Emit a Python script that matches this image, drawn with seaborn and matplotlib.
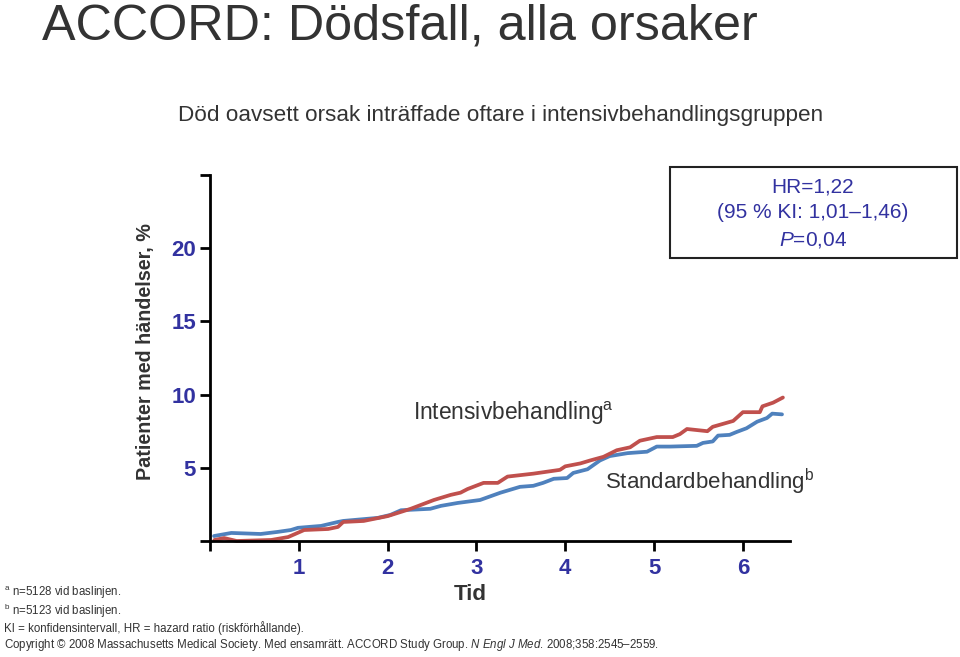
import matplotlib
matplotlib.use("Agg")
import matplotlib.pyplot as plt
import seaborn as sns
import pandas as pd
from matplotlib.patches import Rectangle

# ---- data ----
t_int = [0.05, 0.16, 0.30, 0.69, 0.88, 1.06, 1.33, 1.44, 1.50, 1.73, 2.00, 2.26, 2.52, 2.71, 2.82, 2.90,
         3.08, 3.24, 3.35, 3.64, 3.94, 4.00, 4.17, 4.28, 4.43, 4.58, 4.73, 4.84, 5.03, 5.21, 5.29, 5.37,
         5.60, 5.66, 5.89, 6.00, 6.19, 6.22, 6.34, 6.45]
y_int = [0.07, 0.2, 0.0, 0.07, 0.27, 0.75, 0.82, 0.96, 1.3, 1.37, 1.7, 2.2, 2.8, 3.15, 3.3, 3.55,
         3.97, 3.97, 4.4, 4.6, 4.86, 5.1, 5.3, 5.5, 5.75, 6.2, 6.4, 6.85, 7.1, 7.1, 7.3, 7.65,
         7.5, 7.8, 8.2, 8.8, 8.8, 9.2, 9.45, 9.8]
t_std = [0.045, 0.24, 0.57, 0.76, 0.91, 0.99, 1.25, 1.44, 1.50, 1.89, 2.03, 2.15, 2.48, 2.60, 2.79,
         3.04, 3.27, 3.49, 3.64, 3.75, 3.87, 4.02, 4.09, 4.25, 4.39, 4.50, 4.70, 4.92, 5.03, 5.18,
         5.48, 5.55, 5.66, 5.72, 5.85, 5.93, 6.04, 6.16, 6.27, 6.33, 6.44]
y_std = [0.34, 0.55, 0.48, 0.62, 0.75, 0.9, 1.03, 1.3, 1.37, 1.58, 1.78, 2.1, 2.2, 2.4, 2.6,
         2.8, 3.3, 3.7, 3.77, 3.97, 4.25, 4.3, 4.65, 4.9, 5.5, 5.8, 6.0, 6.1, 6.45, 6.45,
         6.5, 6.7, 6.8, 7.2, 7.25, 7.45, 7.7, 8.15, 8.4, 8.7, 8.65]
groups = ["Intensivbehandling", "Standardbehandling"]
x_ticks = [1, 2, 3, 4, 5, 6]
y_ticks = [5, 10, 15, 20]

sns.set_theme(style="white")
base = "Liberation Sans"
plt.rcParams["font.family"] = [base, "DejaVu Sans"]
plt.rcParams["mathtext.fontset"] = "custom"
plt.rcParams["mathtext.rm"] = base
plt.rcParams["mathtext.it"] = base + ":italic"

GRAY = "#333333"
TBLUE = "#3232a0"
RED = "#c0504d"
BLUE = "#4f81bd"

df = pd.concat([
    pd.DataFrame({"Tid": t_std, "val": y_std, "grupp": groups[1]}),
    pd.DataFrame({"Tid": t_int, "val": y_int, "grupp": groups[0]}),
])

fig = plt.figure(figsize=(9.6, 6.57), dpi=100)
ax = fig.add_axes([210/960, 1-541/657, 580/960, (541-175)/657])
sns.lineplot(data=df, x="Tid", y="val", hue="grupp", palette={groups[0]: RED, groups[1]: BLUE},
             hue_order=[groups[1], groups[0]],
             sort=False, estimator=None, lw=2.7, ax=ax, legend=False)
for ln in ax.lines:
    ln.set_clip_on(False)
    ln.set_solid_joinstyle("round")

ax.set_xlim(0, 6.53)
ax.set_ylim(0, 25)
sns.despine(ax=ax)
for s in ("left", "bottom"):
    ax.spines[s].set_color("black")
    ax.spines[s].set_linewidth(2)
ax.set_xticks([0] + x_ticks)
ax.set_xticklabels([""] + [str(v) for v in x_ticks])
ax.set_yticks([0] + y_ticks + [25])
ax.set_yticklabels([""] + [str(v) for v in y_ticks] + [""])
ax.tick_params(axis="both", which="major", bottom=True, left=True, direction="out", length=7, width=2,
               color="black", labelcolor=TBLUE, labelsize=16)
ax.tick_params(axis="y", pad=3)
ax.tick_params(axis="x", pad=5)
for lab in ax.get_xticklabels() + ax.get_yticklabels():
    lab.set_fontweight("bold")
ax.set_xlabel("")
ax.set_ylabel("")
fig.text(470/960, 1-595/657, "Tid", ha="center", va="center",
         fontsize=16, fontweight="bold", color=GRAY)
fig.text(145/960, 1-352/657, "Patienter med händelser, %", rotation=90, ha="center", va="center",
         fontsize=14.2, fontweight="bold", color=GRAY)

# annotations
fig.text(413/960, 1-413/657, r"Intensivbehandling$^{\mathrm{a}}$", fontsize=16.4, color=GRAY, va="center")
fig.text(605/960, 1-482/657, r"Standardbehandling$^{\mathrm{b}}$", fontsize=16.0, color=GRAY, va="center")

# title & subtitle
fig.text(42/960, 1-39/657, "ACCORD: Dödsfall, alla orsaker", fontsize=36.3, color=GRAY, va="baseline")
fig.text(178/960, 1-115/657, "Död oavsett orsak inträffade oftare i intensivbehandlingsgruppen",
         fontsize=16.2, color=GRAY, va="center")

# HR box
fig.patches.append(Rectangle((670/960, 1-258/657), 287/960, 91/657, transform=fig.transFigure,
                             fill=False, edgecolor="#222222", lw=1.5))
fig.text(813/960, 1-187/657, "HR=1,22", fontsize=15, color=TBLUE, ha="center", va="center")
fig.text(813/960, 1-213/657, "(95 % KI: 1,01–1,46)", fontsize=15, color=TBLUE, ha="center", va="center")
fig.text(813/960, 1-240/657, r"$\mathit{P}$=0,04", fontsize=15, color=TBLUE, ha="center", va="center")

# footnotes
fs = 8.3
fig.text(4/960, 1-593/657, r"$^{\mathrm{a}}$ n=5128 vid baslinjen.", fontsize=fs, color=GRAY, va="center")
fig.text(4/960, 1-611/657, r"$^{\mathrm{b}}$ n=5123 vid baslinjen.", fontsize=fs, color=GRAY, va="center")
fig.text(4/960, 1-628/657, "KI = konfidensintervall, HR = hazard ratio (riskförhållande).", fontsize=fs,
         color=GRAY, va="center")
fig.text(4/960, 1-645/657,
         r"Copyright © 2008 Massachusetts Medical Society. Med ensamrätt. ACCORD Study Group. $\mathit{N\ Engl\ J\ Med}$. 2008;358:2545–2559.",
         fontsize=fs, color=GRAY, va="center")

fig.savefig("out.png", dpi=100)
